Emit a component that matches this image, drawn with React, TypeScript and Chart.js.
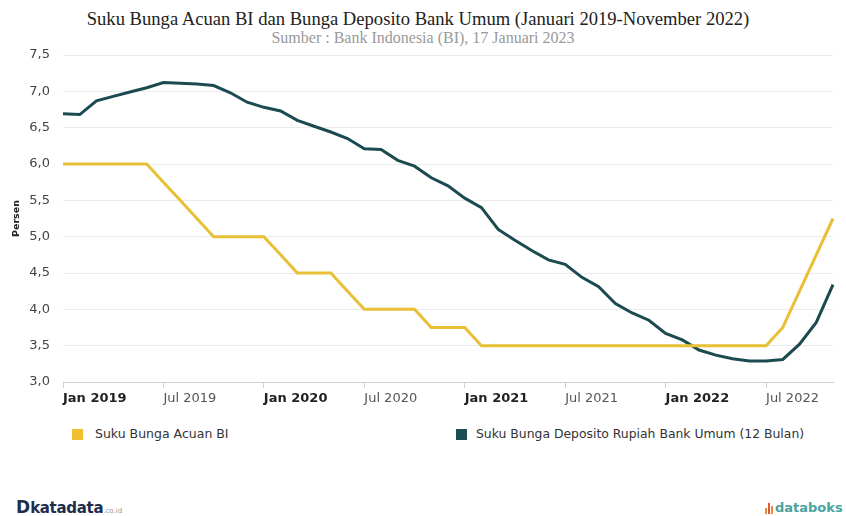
import React, { useEffect, useRef } from "react";
import { Chart, registerables } from "chart.js";

Chart.register(...registerables);

const MONTHS = ["Jan", "Feb", "Mar", "Apr", "May", "Jun", "Jul", "Aug", "Sep", "Oct", "Nov", "Dec"];
const YEARS = [2019, 2020, 2021, 2022];
const LAST_MONTH_COUNT_2022 = 11;

const labels: string[] = YEARS.flatMap((y) =>
  MONTHS.slice(0, y === 2022 ? LAST_MONTH_COUNT_2022 : 12).map((m) => `${m} ${y}`)
);

const biRate = [
  6.0, 6.0, 6.0, 6.0, 6.0, 6.0, 5.75, 5.5, 5.25, 5.0, 5.0, 5.0,
  5.0, 4.75, 4.5, 4.5, 4.5, 4.25, 4.0, 4.0, 4.0, 4.0, 3.75, 3.75,
  3.75, 3.5, 3.5, 3.5, 3.5, 3.5, 3.5, 3.5, 3.5, 3.5, 3.5, 3.5,
  3.5, 3.5, 3.5, 3.5, 3.5, 3.5, 3.5, 3.75, 4.25, 4.75, 5.25,
];

const depositRate = [
  6.69, 6.68, 6.87, 6.93, 6.99, 7.05, 7.12, 7.11, 7.1, 7.08, 6.98, 6.85,
  6.78, 6.73, 6.6, 6.52, 6.44, 6.35, 6.21, 6.2, 6.05, 5.97, 5.81, 5.7,
  5.53, 5.4, 5.1, 4.95, 4.81, 4.68, 4.62, 4.44, 4.31, 4.08, 3.95, 3.85,
  3.67, 3.58, 3.44, 3.37, 3.32, 3.29, 3.29, 3.31, 3.52, 3.82, 4.34,
];

const seriesNames = ["Suku Bunga Acuan BI", "Suku Bunga Deposito Rupiah Bank Umum (12 Bulan)"];
const Y_MIN = 3;
const Y_MAX = 7.5;
const Y_STEP = 0.5;
const TICK_EVERY = 6;

const YELLOW = "#E9BF35";
const TEAL = "#1B4B50";

export default function App() {
  const ref = useRef<HTMLCanvasElement | null>(null);

  useEffect(() => {
    if (!ref.current) return;
    const chart = new Chart(ref.current, {
      type: "line",
      data: {
        labels,
        datasets: [
          {
            label: seriesNames[0],
            data: biRate,
            borderColor: YELLOW,
            backgroundColor: YELLOW,
            borderWidth: 3,
            pointRadius: 0,
            tension: 0,
          },
          {
            label: seriesNames[1],
            data: depositRate,
            borderColor: TEAL,
            backgroundColor: TEAL,
            borderWidth: 3,
            pointRadius: 0,
            tension: 0,
          },
        ],
      },
      options: {
        responsive: false,
        animation: false,
        layout: { padding: { left: 0, right: 13, top: 55, bottom: 8 } },
        plugins: { legend: { display: false }, tooltip: { enabled: false } },
        scales: {
          x: {
            type: "category",
            offset: false,
            afterBuildTicks: (scale: any) => {
              scale.ticks = scale.ticks.filter((t: any) => t.value % TICK_EVERY === 0);
            },
            afterFit: (scale: any) => {
              scale.height = 30;
            },
            grid: {
              drawOnChartArea: false,
              drawTicks: true,
              tickLength: 6,
              color: "#d0d0d0",
            },
            border: { display: true, color: "#d0d0d0", width: 1 },
            ticks: {
              autoSkip: false,
              maxRotation: 0,
              align: "start",
              padding: 3,
              color: (ctx: any) => (String(ctx.tick?.label || "").startsWith("Jan") ? "#222" : "#555"),
              font: (ctx: any) => ({
                family: "DejaVu Sans",
                size: 13,
                weight: String(ctx.tick?.label || "").startsWith("Jan") ? "bold" : "normal",
              }),
            },
          },
          y: {
            min: Y_MIN,
            max: Y_MAX,
            afterFit: (scale: any) => {
              scale.width = 63;
            },
            grid: { color: "#ebebeb", drawTicks: false },
            border: { display: false },
            ticks: {
              stepSize: Y_STEP,
              padding: 13,
              color: "#444",
              font: { family: "DejaVu Sans", size: 13 },
              callback: (v: any) => Number(v).toFixed(1).replace(".", ","),
            },
            title: {
              display: true,
              text: "Persen",
              color: "#222",
              font: { family: "DejaVu Sans", size: 9.5, weight: "bold" },
              padding: { top: 11, bottom: 0 },
            },
          },
        },
      },
    } as any);
    return () => chart.destroy();
  }, []);

  const sans = "'DejaVu Sans', sans-serif";

  return (
    <div style={{ position: "absolute", left: 0, top: 0, width: 846, height: 516, background: "#fff", overflow: "hidden" }}>
      <div
        style={{
          position: "absolute", left: 0, top: 8, width: 836, textAlign: "center",
          fontFamily: "'Liberation Serif', serif", fontSize: 18.6, lineHeight: "22px", color: "#222",
        }}
      >
        Suku Bunga Acuan BI dan Bunga Deposito Bank Umum (Januari 2019-November 2022)
      </div>
      <div
        style={{
          position: "absolute", left: 0, top: 29, width: 846, textAlign: "center",
          fontFamily: "'Liberation Serif', serif", fontSize: 16, lineHeight: "18px", color: "#999",
        }}
      >
        Sumber : Bank Indonesia (BI), 17 Januari 2023
      </div>
      <canvas ref={ref} width={846} height={420} style={{ position: "absolute", left: 0, top: 0, width: 846, height: 420 }} />
      <div style={{ position: "absolute", left: 72, top: 429, width: 11, height: 11, background: "#F0BE2E" }} />
      <div style={{ position: "absolute", left: 95, top: 426, fontFamily: sans, fontSize: 12.5, lineHeight: "16px", color: "#333" }}>
        {seriesNames[0]}
      </div>
      <div style={{ position: "absolute", left: 456, top: 429, width: 11, height: 11, background: "#1D4E55" }} />
      <div style={{ position: "absolute", left: 476, top: 426, fontFamily: sans, fontSize: 12.4, lineHeight: "16px", color: "#333" }}>
        {seriesNames[1]}
      </div>
      <div style={{ position: "absolute", left: 16, top: 499, fontFamily: sans, color: "#1f2d4d", lineHeight: "16px", whiteSpace: "nowrap" }}>
        <span style={{ fontSize: 17, fontWeight: "bold" }}>D</span>
        <span style={{ fontSize: 15, fontWeight: "bold", letterSpacing: -0.3 }}>katadata</span>
        <span style={{ fontSize: 7, color: "#999" }}>.co.id</span>
      </div>
      <div style={{ position: "absolute", left: 765, top: 500, fontFamily: sans, lineHeight: "16px", whiteSpace: "nowrap", display: "flex", alignItems: "flex-end" }}>
        <span style={{ display: "inline-flex", alignItems: "flex-end", gap: 1, height: 12, marginRight: 2, marginBottom: 2 }}>
          <span style={{ width: 2, height: 6, background: "#f08a3c" }} />
          <span style={{ width: 2, height: 11, background: "#e4572e" }} />
          <span style={{ width: 2, height: 8, background: "#f08a3c" }} />
        </span>
        <span style={{ fontSize: 13, fontWeight: "bold", color: "#4aa3a0" }}>databoks</span>
      </div>
    </div>
  );
}
